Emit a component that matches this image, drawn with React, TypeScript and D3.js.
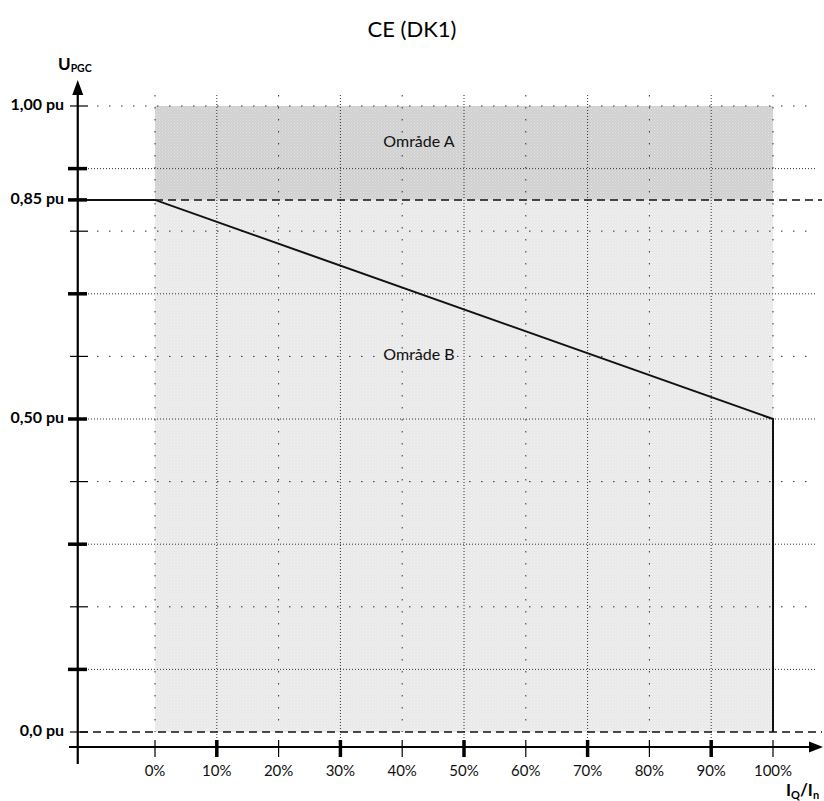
import React from "react";
import * as d3 from "d3";

const title = "CE (DK1)";
const xTickValues = [0, 10, 20, 30, 40, 50, 60, 70, 80, 90, 100];
const xTickLabels = ["0%", "10%", "20%", "30%", "40%", "50%", "60%", "70%", "80%", "90%", "100%"];
const xBoldTicks = [10, 30, 50, 70, 90];
const yGridValues = [0.1, 0.2, 0.3, 0.4, 0.5, 0.6, 0.7, 0.8, 0.9, 1.0];
const yBoldTicks = [0.1, 0.3, 0.5, 0.7, 0.9, 0.85];
const yLabelValues = [1.0, 0.85, 0.5, 0.0];
const yLabelTexts = ["1,00 pu", "0,85 pu", "0,50 pu", "0,0 pu"];
const curveX = [-12.5, 0, 100, 100];
const curveY = [0.85, 0.85, 0.5, 0];
const areaA = { x0: 0, x1: 100, y0: 0.85, y1: 1.0, label: "Område A" };
const areaB = { x0: 0, x1: 100, y0: 0.0, y1: 0.85, label: "Område B" };
const dashedLevels = [0.85, 0.0];

const W = 824;
const H = 801;
const FONT = "Lato, 'Open Sans', sans-serif";

export default function App() {
  const x = d3.scaleLinear().domain([0, 100]).range([155, 773]);
  const y = d3.scaleLinear().domain([0, 1]).range([732, 106]);
  const axisX = x(-12.5);
  const axisY = 747;
  const rightEnd = 822;
  const isBold = (arr: number[], v: number) => arr.some((b) => Math.abs(b - v) < 1e-9);
  const line = d3
    .line<number>()
    .x((_, i) => x(curveX[i]))
    .y((d) => y(d));

  return (
    <svg
      width={W}
      height={H}
      style={{ position: "absolute", left: 0, top: 0, background: "#fff" }}
      fontFamily={FONT}
    >
      <defs>
        <pattern id="patA" width="3" height="3" patternUnits="userSpaceOnUse">
          <rect width="3" height="3" fill="#d0d0d0" />
          <rect x="0" y="0" width="1" height="1" fill="#e2e2e2" />
          <rect x="1.5" y="1.5" width="1" height="1" fill="#e2e2e2" />
        </pattern>
        <pattern id="patB" width="3" height="3" patternUnits="userSpaceOnUse">
          <rect width="3" height="3" fill="#e8e8e8" />
          <rect x="0" y="0" width="1" height="1" fill="#f5f5f5" />
          <rect x="1.5" y="1.5" width="1" height="1" fill="#f5f5f5" />
        </pattern>
      </defs>

      {/* Title */}
      <text x={412} y={31} textAnchor="middle" dominantBaseline="middle" fontSize={22} fill="#000">
        {title}
      </text>

      {/* Areas */}
      <rect
        x={x(areaA.x0)}
        y={y(areaA.y1)}
        width={x(areaA.x1) - x(areaA.x0)}
        height={y(areaA.y0) - y(areaA.y1)}
        fill="url(#patA)"
      />
      <rect
        x={x(areaB.x0)}
        y={y(areaB.y1)}
        width={x(areaB.x1) - x(areaB.x0)}
        height={y(areaB.y0) - y(areaB.y1)}
        fill="url(#patB)"
      />

      {/* Horizontal grid */}
      {yGridValues.map((v) => {
        const bold = isBold(yBoldTicks, v);
        return (
          <line
            key={"hg" + v}
            x1={bold ? 88 : 97}
            x2={817}
            y1={y(v)}
            y2={y(v)}
            stroke="#333"
            strokeWidth={1}
            strokeDasharray={bold ? "1,2" : "1.5,10.5"}
          />
        );
      })}

      {/* Vertical grid */}
      {xTickValues.map((v) => {
        const bold = isBold(xBoldTicks, v);
        return (
          <line
            key={"vg" + v}
            x1={x(v)}
            x2={x(v)}
            y1={95}
            y2={bold ? axisY : y(0)}
            stroke="#333"
            strokeWidth={1}
            strokeDasharray={bold ? "1,2" : "1.5,10.5"}
          />
        );
      })}

      {/* Dashed levels */}
      {dashedLevels.map((v) => (
        <line
          key={"dl" + v}
          x1={v === 0 ? 80 : x(0)}
          x2={rightEnd}
          y1={y(v)}
          y2={y(v)}
          stroke="#111"
          strokeWidth={1.5}
          strokeDasharray="8,5"
        />
      ))}

      {/* Characteristic curve */}
      <path d={line(curveY) || ""} fill="none" stroke="#111" strokeWidth={2} />

      {/* Area labels */}
      <text x={419} y={y((areaA.y0 + areaA.y1) / 2) - 10} textAnchor="middle" dominantBaseline="middle" fontSize={16} fill="#111">
        {areaA.label}
      </text>
      <text x={419} y={y(0.6)} textAnchor="middle" dominantBaseline="middle" fontSize={16} fill="#111">
        {areaB.label}
      </text>

      {/* Axes */}
      <line x1={axisX} x2={axisX} y1={764} y2={92} stroke="#000" strokeWidth={2.2} />
      <path d={`M${axisX},80 L${axisX - 5.5},95 L${axisX + 5.5},95 Z`} fill="#000" />
      <line x1={69} x2={rightEnd - 10} y1={axisY} y2={axisY} stroke="#000" strokeWidth={2.2} />
      <path d={`M${rightEnd + 1},${axisY} L${rightEnd - 13},${axisY - 5.5} L${rightEnd - 13},${axisY + 5.5} Z`} fill="#000" />

      {/* Y ticks */}
      {[0, ...yGridValues, 0.85].map((v) => {
        const bold = isBold(yBoldTicks, v);
        return (
          <line
            key={"yt" + v}
            x1={bold ? 68 : 70}
            x2={bold ? 87 : 88}
            y1={y(v)}
            y2={y(v)}
            stroke="#000"
            strokeWidth={bold ? 3.5 : 1.2}
          />
        );
      })}

      {/* X ticks */}
      {xTickValues.map((v) => {
        const bold = isBold(xBoldTicks, v);
        return (
          <line
            key={"xt" + v}
            x1={x(v)}
            x2={x(v)}
            y1={740}
            y2={757}
            stroke="#000"
            strokeWidth={bold ? 3.5 : 1.2}
          />
        );
      })}

      {/* Y labels */}
      {yLabelValues.map((v, i) => (
        <text
          key={"yl" + v}
          x={64}
          y={y(v)}
          textAnchor="end"
          dominantBaseline="middle"
          fontSize={16}
          fontWeight="bold"
          fill="#000"
        >
          {yLabelTexts[i]}
        </text>
      ))}

      {/* X labels */}
      {xTickValues.map((v, i) => (
        <text key={"xl" + v} x={x(v)} y={772} textAnchor="middle" dominantBaseline="middle" fontSize={15} fill="#111">
          {xTickLabels[i]}
        </text>
      ))}

      {/* Axis titles */}
      <text x={58} y={70} fontSize={17} fontWeight="bold" fill="#000">
        U<tspan fontSize={10.5} dy={2}>PGC</tspan>
      </text>
      <text x={786} y={796} fontSize={17} fontWeight="bold" fill="#000">
        I<tspan fontSize={11} dy={3}>Q</tspan>
        <tspan dy={-3}>/I</tspan>
        <tspan fontSize={11} dy={3}>n</tspan>
      </text>
    </svg>
  );
}
